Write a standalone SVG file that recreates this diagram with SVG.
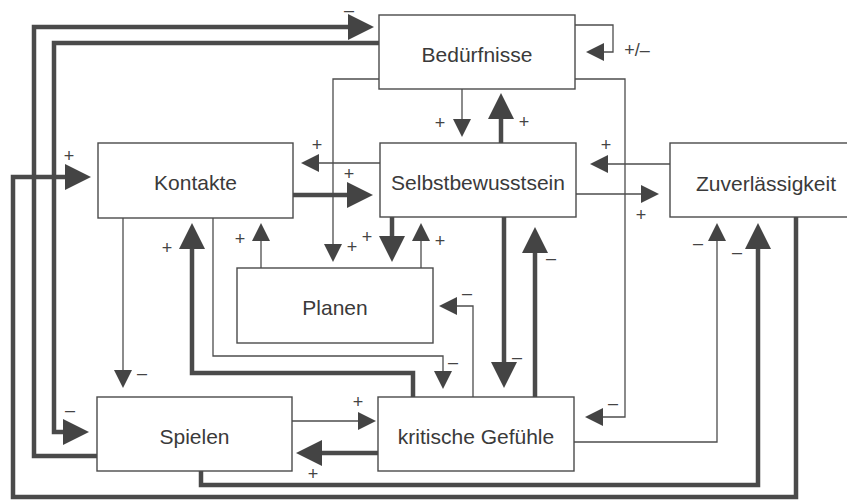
<svg xmlns="http://www.w3.org/2000/svg" width="847" height="501" viewBox="0 0 847 501">
  <defs>
    <style>
      .box { fill: #ffffff; stroke: #4a4a4a; stroke-width: 1.4; }
      .name { font-family: "Liberation Sans", Arial, sans-serif; font-size: 21px; fill: #3a3a3a; text-anchor: middle; }
      .thin { fill: none; stroke: #4d4d4d; stroke-width: 1.3; marker-end: url(#headThin); }
      .thick { fill: none; stroke: #4a4a4a; stroke-width: 4.5; marker-end: url(#headThick); }
      .plain { fill: none; stroke: #4a4a4a; stroke-width: 4.5; }
      .sign { font-family: "Liberation Sans", Arial, sans-serif; font-size: 18px; fill: #444444; text-anchor: middle; }
    </style>
    <marker id="headThin" viewBox="0 -10 20 20" refX="1" refY="0" markerWidth="20" markerHeight="20" markerUnits="userSpaceOnUse" orient="auto">
      <path d="M0,-9 L18,0 L0,9 z" fill="#444444"/>
    </marker>
    <marker id="headThick" viewBox="0 -14 28 28" refX="2" refY="0" markerWidth="28" markerHeight="28" markerUnits="userSpaceOnUse" orient="auto">
      <path d="M0,-13 L26,0 L0,13 z" fill="#444444"/>
    </marker>
  </defs>

  <rect x="0" y="0" width="847" height="501" fill="#ffffff"/>

  <!-- connectors -->
  <g id="connectors">
    <!-- Spielen -> Bedürfnisse -->
    <path class="thick" d="M97,456 H34 V27 H350"/>
    <!-- Bedürfnisse -> Spielen -->
    <path class="thick" d="M379,43 H54 V432 H65"/>
    <!-- Zuverlässigkeit -> Kontakte (outer loop) -->
    <path class="thick" d="M796,217 V497 H13 V177 H67"/>
    <!-- Spielen -> Zuverlässigkeit -->
    <path class="thick" d="M201,471 V485 H758 V247"/>
    <!-- kritische Gefühle -> Zuverlässigkeit -->
    <path class="thin" d="M574,442 H717 V240"/>
    <!-- Bedürfnisse -> kritische Gefühle -->
    <path class="thin" d="M575,79 H625 V417 H602"/>
    <!-- Bedürfnisse self loop -->
    <path class="thin" d="M575,25 H613 V52 H603"/>
    <!-- Bedürfnisse -> Selbstbewusstsein -->
    <path class="thin" d="M462,89 V120"/>
    <!-- Selbstbewusstsein -> Bedürfnisse -->
    <path class="thick" d="M501,143 V117"/>
    <!-- Bedürfnisse -> Planen -->
    <path class="thin" d="M379,79 H333 V245"/>
    <!-- Selbstbewusstsein -> Kontakte -->
    <path class="thin" d="M380,163 H318"/>
    <!-- Kontakte -> Selbstbewusstsein -->
    <path class="thick" d="M293,195 H349"/>
    <!-- Selbstbewusstsein -> Planen -->
    <path class="thick" d="M392,217 V238"/>
    <!-- Planen -> Selbstbewusstsein -->
    <path class="thin" d="M421,268 V240"/>
    <!-- Planen -> Kontakte -->
    <path class="thin" d="M261,268 V240"/>
    <!-- kritische Gefühle -> Kontakte -->
    <path class="thick" d="M413,397 V373 H192 V247"/>
    <!-- Kontakte -> kritische Gefühle -->
    <path class="thin" d="M213,218 V356 H443 V372"/>
    <!-- Kontakte -> Spielen -->
    <path class="thin" d="M123,218 V371"/>
    <!-- Spielen -> kritische Gefühle -->
    <path class="thin" d="M292,421 H359"/>
    <!-- kritische Gefühle -> Spielen -->
    <path class="thick" d="M378,453 H320"/>
    <!-- kritische Gefühle -> Planen -->
    <path class="thin" d="M473,397 V306 H456"/>
    <!-- Selbstbewusstsein -> kritische Gefühle -->
    <path class="thick" d="M504,217 V364"/>
    <!-- kritische Gefühle -> Selbstbewusstsein -->
    <path class="thick" d="M535,397 V251"/>
    <!-- Zuverlässigkeit -> Selbstbewusstsein -->
    <path class="thin" d="M670,164 H607"/>
    <!-- Selbstbewusstsein -> Zuverlässigkeit -->
    <path class="thin" d="M576,194 H642"/>
  </g>

  <!-- signs on the connectors -->
  <g id="signs">
    <text class="sign" x="349" y="16">–</text>
    <text class="sign" x="637" y="56">+/–</text>
    <text class="sign" x="440" y="129">+</text>
    <text class="sign" x="524" y="128">+</text>
    <text class="sign" x="606" y="151">+</text>
    <text class="sign" x="69" y="162">+</text>
    <text class="sign" x="317" y="151">+</text>
    <text class="sign" x="349" y="180">+</text>
    <text class="sign" x="240" y="245">+</text>
    <text class="sign" x="167" y="254">+</text>
    <text class="sign" x="352" y="253">+</text>
    <text class="sign" x="367" y="243">+</text>
    <text class="sign" x="440" y="247">+</text>
    <text class="sign" x="641" y="221">+</text>
    <text class="sign" x="551" y="264">–</text>
    <text class="sign" x="698" y="249">–</text>
    <text class="sign" x="737" y="258">–</text>
    <text class="sign" x="467" y="299">–</text>
    <text class="sign" x="453" y="368">–</text>
    <text class="sign" x="517" y="363">–</text>
    <text class="sign" x="613" y="409">–</text>
    <text class="sign" x="142" y="379">–</text>
    <text class="sign" x="70" y="416">–</text>
    <text class="sign" x="358" y="408">+</text>
    <text class="sign" x="313" y="480">+</text>
  </g>

  <!-- nodes -->
  <g id="beduerfnisse">
    <rect class="box" x="379" y="15" width="196" height="74"/>
    <text class="name" x="477" y="62">Bedürfnisse</text>
  </g>
  <g id="kontakte">
    <rect class="box" x="98" y="143" width="195" height="75"/>
    <text class="name" x="195.5" y="190">Kontakte</text>
  </g>
  <g id="selbstbewusstsein">
    <rect class="box" x="380" y="143" width="196" height="74"/>
    <text class="name" x="478" y="190">Selbstbewusstsein</text>
  </g>
  <g id="zuverlaessigkeit">
    <rect class="box" x="670" y="143" width="192" height="74"/>
    <text class="name" x="766" y="191">Zuverlässigkeit</text>
  </g>
  <g id="planen">
    <rect class="box" x="237" y="268" width="196" height="75"/>
    <text class="name" x="335" y="315">Planen</text>
  </g>
  <g id="spielen">
    <rect class="box" x="97" y="397" width="195" height="74"/>
    <text class="name" x="194.5" y="444">Spielen</text>
  </g>
  <g id="kritische-gefuehle">
    <rect class="box" x="378" y="397" width="196" height="74"/>
    <text class="name" x="476" y="444">kritische Gefühle</text>
  </g>
</svg>
